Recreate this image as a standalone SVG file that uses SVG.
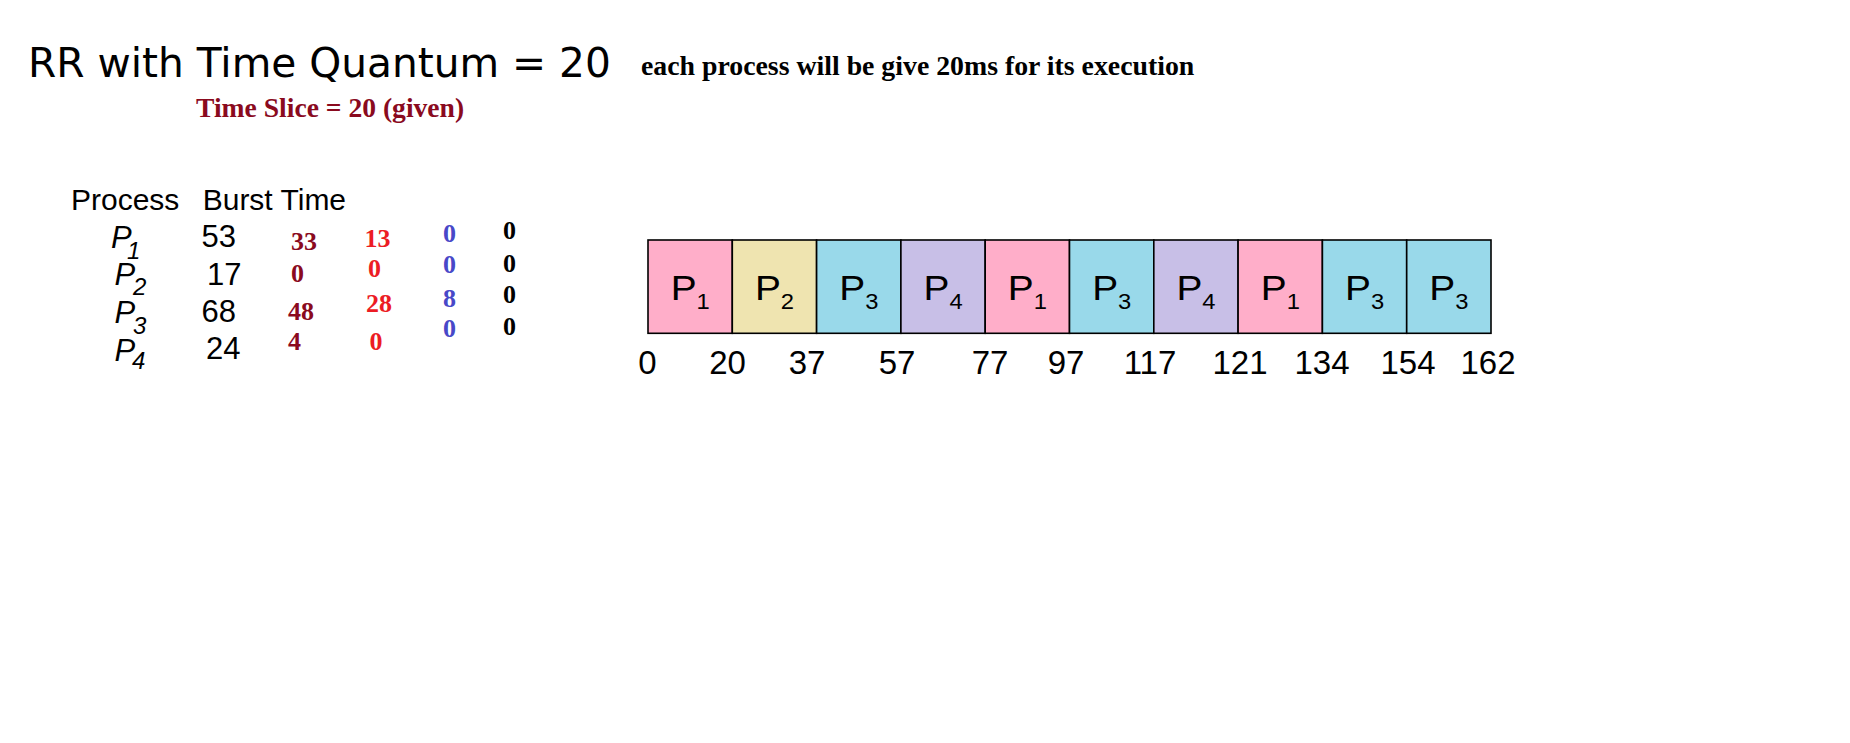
<svg xmlns="http://www.w3.org/2000/svg" width="1850" height="743" viewBox="0 0 1850 743">
<style>
.title{font-family:"DejaVu Sans",Verdana,sans-serif;font-size:40.7px;fill:#000}
.tnr{font-family:"Liberation Serif","Times New Roman",serif;font-weight:bold}
.sub1{font-size:27.8px;fill:#000}
.slice{font-size:27.6px;fill:#8a0a1e}
.hdr{font-family:"Liberation Sans",Arial,sans-serif;font-size:30px;fill:#000}
.pn{font-family:"Liberation Sans",Arial,sans-serif;font-size:31px;font-style:italic;fill:#000}
.bt{font-family:"Liberation Sans",Arial,sans-serif;font-size:31px;fill:#000}
.rem{font-family:"Liberation Serif","Times New Roman",serif;font-weight:bold;font-size:26px}
.c1{fill:#8a0a1e}.c2{fill:#ec1c24}.c3{fill:#4848c8}.c4{fill:#000}
.cell{stroke:#000;stroke-width:1.6}
.pink{fill:#ffaec9}.tan{fill:#efe4b0}.cyan{fill:#99d9ea}.lav{fill:#c8bfe7}
.cl{font-family:"Liberation Sans",Arial,sans-serif;font-size:36px;fill:#000;text-anchor:middle}
.tl{font-family:"Liberation Sans",Arial,sans-serif;font-size:33px;fill:#000;text-anchor:middle}
</style>
<rect width="1850" height="743" fill="#fff"/>
<g id="title">
<text class="title" x="28" y="76.7">RR with Time Quantum = 20</text>
<text class="tnr sub1" x="641" y="75">each process will be give 20ms for its execution</text>
<text class="tnr slice" x="196" y="116.7">Time Slice = 20 (given)</text>
</g>
<g id="table">
<text class="hdr" x="71" y="210">Process</text>
<text class="hdr" x="202.7" y="210">Burst Time</text>
<text class="pn" x="111" y="248">P<tspan x="127" dy="11" font-size="24">1</tspan></text>
<text class="pn" x="114.5" y="285">P<tspan x="133" dy="10" font-size="24">2</tspan></text>
<text class="pn" x="114.5" y="322.7">P<tspan x="133" dy="11" font-size="24">3</tspan></text>
<text class="pn" x="114.5" y="360.7">P<tspan x="132" dy="8" font-size="24">4</tspan></text>
<text class="bt" x="201.5" y="247.3">53</text>
<text class="bt" x="207" y="285">17</text>
<text class="bt" x="201.5" y="321.7">68</text>
<text class="bt" x="206" y="359.3">24</text>
<text class="rem c1" x="291" y="250">33</text>
<text class="rem c1" x="291" y="281.7">0</text>
<text class="rem c1" x="288" y="320">48</text>
<text class="rem c1" x="288" y="350">4</text>
<text class="rem c2" x="364.5" y="247.3">13</text>
<text class="rem c2" x="368" y="276.7">0</text>
<text class="rem c2" x="366" y="311.7">28</text>
<text class="rem c2" x="369.5" y="350">0</text>
<text class="rem c3" x="443" y="242.3">0</text>
<text class="rem c3" x="443" y="273.3">0</text>
<text class="rem c3" x="443" y="306.7">8</text>
<text class="rem c3" x="443" y="336.7">0</text>
<text class="rem c4" x="503" y="239.3">0</text>
<text class="rem c4" x="503" y="271.7">0</text>
<text class="rem c4" x="503" y="303.3">0</text>
<text class="rem c4" x="503" y="335">0</text>
</g>
<g id="gantt">
<g id="cell1"><rect class="cell pink" x="648" y="240" width="84.3" height="93.3"/><text class="cl" transform="translate(690.2 300) scale(1.08 1)">P<tspan font-size="22" dy="9">1</tspan></text></g>
<g id="cell2"><rect class="cell tan" x="732.3" y="240" width="84.3" height="93.3"/><text class="cl" transform="translate(774.5 300) scale(1.08 1)">P<tspan font-size="22" dy="9">2</tspan></text></g>
<g id="cell3"><rect class="cell cyan" x="816.6" y="240" width="84.3" height="93.3"/><text class="cl" transform="translate(858.8 300) scale(1.08 1)">P<tspan font-size="22" dy="9">3</tspan></text></g>
<g id="cell4"><rect class="cell lav" x="900.9" y="240" width="84.3" height="93.3"/><text class="cl" transform="translate(943.1 300) scale(1.08 1)">P<tspan font-size="22" dy="9">4</tspan></text></g>
<g id="cell5"><rect class="cell pink" x="985.2" y="240" width="84.3" height="93.3"/><text class="cl" transform="translate(1027.4 300) scale(1.08 1)">P<tspan font-size="22" dy="9">1</tspan></text></g>
<g id="cell6"><rect class="cell cyan" x="1069.5" y="240" width="84.3" height="93.3"/><text class="cl" transform="translate(1111.7 300) scale(1.08 1)">P<tspan font-size="22" dy="9">3</tspan></text></g>
<g id="cell7"><rect class="cell lav" x="1153.8" y="240" width="84.3" height="93.3"/><text class="cl" transform="translate(1196 300) scale(1.08 1)">P<tspan font-size="22" dy="9">4</tspan></text></g>
<g id="cell8"><rect class="cell pink" x="1238.1" y="240" width="84.3" height="93.3"/><text class="cl" transform="translate(1280.3 300) scale(1.08 1)">P<tspan font-size="22" dy="9">1</tspan></text></g>
<g id="cell9"><rect class="cell cyan" x="1322.4" y="240" width="84.3" height="93.3"/><text class="cl" transform="translate(1364.6 300) scale(1.08 1)">P<tspan font-size="22" dy="9">3</tspan></text></g>
<g id="cell10"><rect class="cell cyan" x="1406.7" y="240" width="84.3" height="93.3"/><text class="cl" transform="translate(1448.9 300) scale(1.08 1)">P<tspan font-size="22" dy="9">3</tspan></text></g>
</g>
<g id="timeline">
<text class="tl" x="647.5" y="374">0</text>
<text class="tl" x="727.5" y="374">20</text>
<text class="tl" x="807" y="374">37</text>
<text class="tl" x="897" y="374">57</text>
<text class="tl" x="990" y="374">77</text>
<text class="tl" x="1066" y="374">97</text>
<text class="tl" x="1150" y="374">117</text>
<text class="tl" x="1240" y="374">121</text>
<text class="tl" x="1322" y="374">134</text>
<text class="tl" x="1408" y="374">154</text>
<text class="tl" x="1488" y="374">162</text>
</g>
</svg>
